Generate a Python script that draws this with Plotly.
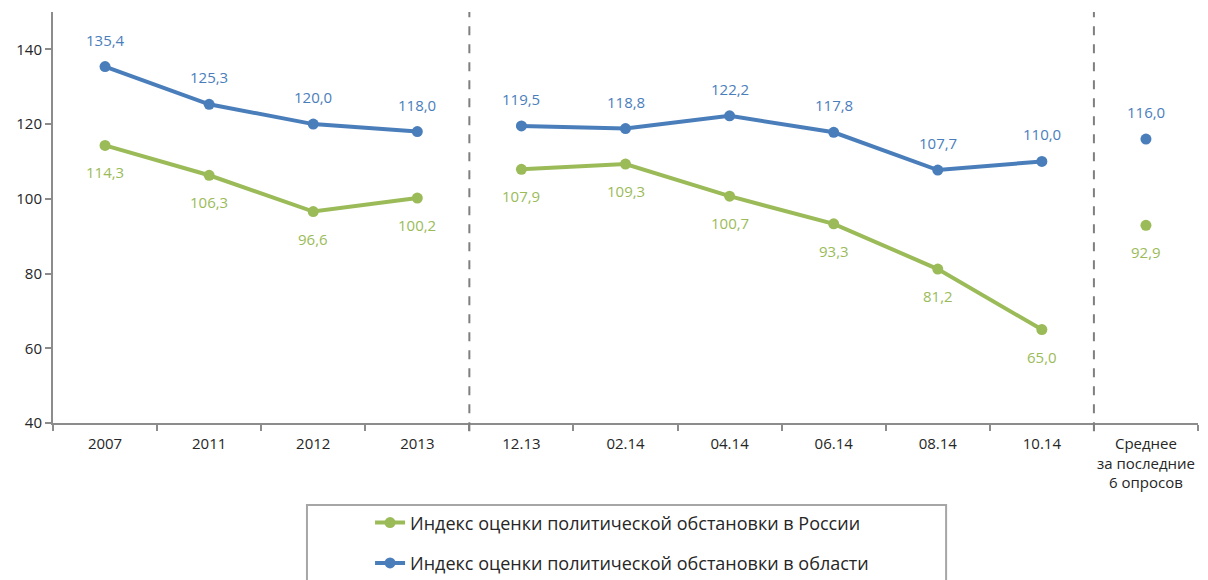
import plotly.graph_objects as go

categories = ["2007", "2011", "2012", "2013", "12.13", "02.14", "04.14", "06.14", "08.14", "10.14",
              "Среднее<br>за последние<br>6 опросов"]
russia = [114.3, 106.3, 96.6, 100.2, 107.9, 109.3, 100.7, 93.3, 81.2, 65.0, 92.9]
region = [135.4, 125.3, 120.0, 118.0, 119.5, 118.8, 122.2, 117.8, 107.7, 110.0, 116.0]
segments = [(0, 4), (4, 10), (10, 11)]
name_russia = "Индекс оценки политической обстановки в России"
name_region = "Индекс оценки политической обстановки в области"
y_ticks = [40, 60, 80, 100, 120, 140]

GREEN = "#9bbb59"
BLUE = "#4a7ebb"
AXIS = "#8c8c8c"
FONT = "Open Sans"

fig = go.Figure()


def add_series(values, name, color, group):
    for i, (a, b) in enumerate(segments):
        fig.add_trace(go.Scatter(
            x=categories[a:b], y=values[a:b], mode="lines+markers",
            name=name, legendgroup=group, showlegend=(i == 0),
            line=dict(color=color, width=4), marker=dict(color=color, size=11),
            hoverinfo="skip"))


add_series(russia, name_russia, GREEN, "ru")
add_series(region, name_region, BLUE, "reg")

for i, v in enumerate(region):
    fig.add_annotation(x=i, y=v, text=f"{v:.1f}".replace(".", ","), showarrow=False,
                       yshift=27, font=dict(family=FONT, size=15, color=BLUE))
for i, v in enumerate(russia):
    fig.add_annotation(x=i, y=v, text=f"{v:.1f}".replace(".", ","), showarrow=False,
                       yshift=-27, font=dict(family=FONT, size=15, color=GREEN))

# dashed separators between groups
for a, b in segments[1:]:
    fig.add_shape(type="line", xref="x", yref="paper", x0=a - 0.5, x1=a - 0.5, y0=-0.02, y1=1,
                  line=dict(color="#7f7f7f", width=2, dash="dash"))

# legend frame
fig.add_shape(type="rect", xref="paper", yref="paper", x0=0.2218, x1=0.78, y0=-0.45, y1=-0.1995,
              line=dict(color="#a6a6a6", width=2), fillcolor="rgba(0,0,0,0)")

fig.update_layout(
    width=1208, height=580,
    margin=dict(l=53, r=10, t=12, b=157, autoexpand=False),
    paper_bgcolor="white", plot_bgcolor="white",
    font=dict(family=FONT, size=15, color="#262626"),
    showlegend=True,
    legend=dict(x=0.2769, y=-0.198, xanchor="left", yanchor="top", orientation="v",
                font=dict(family=FONT, size=18, color="#262626"), tracegroupgap=14,
                bgcolor="rgba(0,0,0,0)", borderwidth=0),
    xaxis=dict(type="category", categoryorder="array", categoryarray=categories,
               range=[-0.5, len(categories) - 0.5], showgrid=False, zeroline=False,
               showline=True, linecolor=AXIS, linewidth=2, tickangle=0,
               ticks="outside", tickson="boundaries", ticklen=6, tickcolor=AXIS, tickwidth=2,
               ticklabelstandoff=6, tickfont=dict(family=FONT, size=15, color="#262626")),
    yaxis=dict(range=[40, 150], tickvals=y_ticks, showgrid=False, zeroline=False,
               showline=True, linecolor=AXIS, linewidth=2,
               ticks="outside", ticklen=6, tickcolor=AXIS, tickwidth=2,
               tickfont=dict(family=FONT, size=15, color="#262626")),
)

fig.write_html("out.html", config={"displayModeBar": False},
               post_script="document.body.style.margin='0';document.body.style.overflow='hidden';")
